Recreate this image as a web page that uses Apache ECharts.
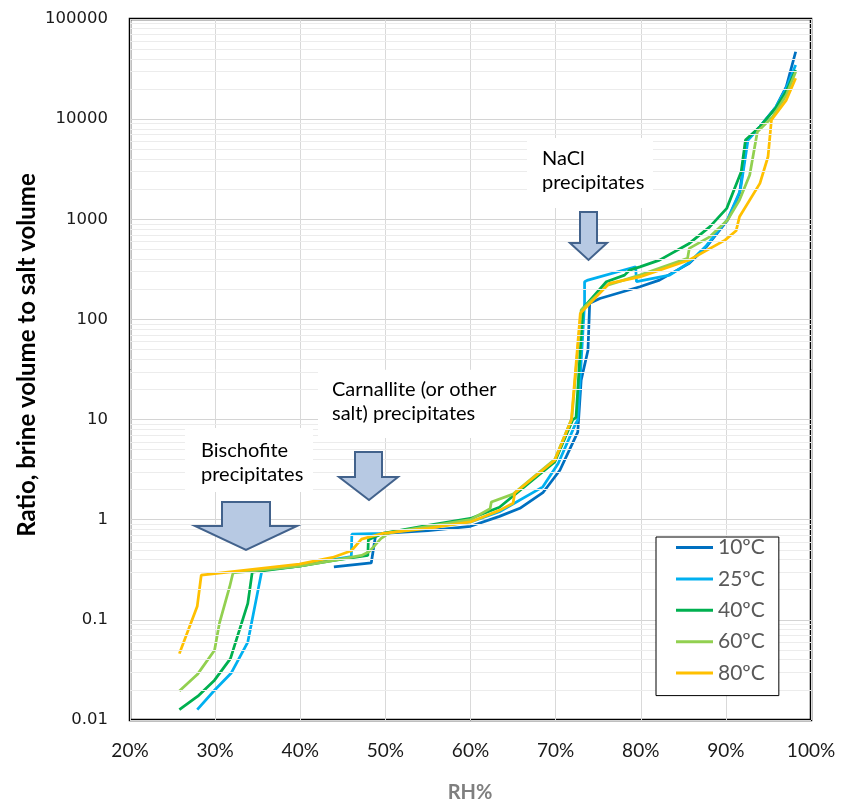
<!DOCTYPE html>
<html>
<head>
<meta charset="utf-8">
<script src="https://cdn.jsdelivr.net/npm/echarts@6/dist/echarts.min.js"></script>
<style>
  html, body { margin: 0; padding: 0; background: #ffffff; }
  #chart { width: 842px; height: 808px; }
</style>
</head>
<body>
<div id="chart"></div>
<script>
// Relative humidity (%) and brine/salt volume ratio for each temperature
const rh10 = [43.95, 48.34, 48.85, 49.7, 55.0, 60.0, 63.4, 65.8, 68.5, 70.5, 72.6, 73.0, 73.8, 74.0, 75.2, 79.9, 82.2, 85.7, 87.7, 90.2, 91.6, 92.5, 94.0, 95.9, 97.1, 98.2];
const ratio10 = [0.338, 0.37, 0.70, 0.73, 0.78, 0.86, 1.08, 1.30, 1.86, 3.12, 7.5, 24.8, 49.3, 145, 162, 212, 247, 363, 531, 982, 1815, 6180, 8400, 13300, 21100, 47100];

const rh25 = [27.9, 29.93, 31.9, 33.84, 35.5, 39.9, 43.8, 46.0, 46.06, 49.7, 55.0, 60.0, 63.4, 68.5, 70.3, 72.35, 72.6, 73.4, 73.4, 73.8, 79.4, 79.5, 83.4, 85.7, 87.7, 90.2, 91.7, 92.6, 94.0, 95.9, 97.1, 98.2];
const ratio25 = [0.0127, 0.0198, 0.0295, 0.060, 0.313, 0.343, 0.40, 0.427, 0.716, 0.73, 0.84, 0.95, 1.2, 2.13, 3.64, 9.1, 9.9, 145, 238, 247, 336, 238, 277, 370, 545, 1000, 1950, 6180, 8400, 13300, 20500, 34700];

const rh40 = [25.8, 27.97, 29.93, 31.8, 33.84, 34.36, 39.9, 43.8, 47.94, 48.0, 49.7, 55.0, 60.0, 63.4, 69.9, 72.0, 72.4, 73.2, 75.96, 78.1, 78.7, 79.9, 82.2, 85.7, 88.1, 90.1, 91.8, 92.3, 94.0, 95.9, 97.1, 98.2];
const ratio40 = [0.0127, 0.0173, 0.025, 0.041, 0.146, 0.30, 0.343, 0.39, 0.44, 0.63, 0.73, 0.88, 1.03, 1.33, 3.78, 9.9, 10.5, 129, 238, 277, 311, 335, 391, 574, 841, 1285, 2985, 6180, 8400, 13000, 19000, 31000];

const rh60 = [25.8, 27.9, 29.93, 30.5, 31.7, 32.1, 39.9, 43.8, 47.2, 48.1, 49.5, 50.5, 55.0, 60.0, 62.3, 62.45, 65.0, 69.9, 71.9, 73.0, 76.1, 79.9, 85.5, 85.7, 88.1, 90.2, 91.6, 92.8, 93.7, 95.5, 97.1, 98.2];
const ratio60 = [0.0195, 0.0284, 0.0497, 0.092, 0.213, 0.294, 0.343, 0.39, 0.44, 0.48, 0.65, 0.74, 0.86, 1.0, 1.29, 1.50, 1.80, 4.0, 10.3, 124, 220, 277, 407, 512, 668, 982, 1556, 2765, 7480, 10570, 17400, 29800];

const rh80 = [25.8, 27.9, 28.37, 39.9, 43.8, 46.0, 47.2, 49.7, 55.0, 60.0, 63.4, 65.0, 65.2, 69.9, 71.85, 72.9, 76.3, 79.9, 85.7, 89.9, 91.2, 91.6, 94.0, 94.95, 95.35, 97.1, 98.2];
const ratio80 = [0.046, 0.137, 0.279, 0.36, 0.42, 0.49, 0.64, 0.73, 0.82, 0.95, 1.24, 1.46, 1.85, 3.93, 9.9, 115, 229, 266, 392, 619, 767, 1059, 2285, 4210, 9800, 15500, 25600];

const seriesNames = ['10ºC', '25ºC', '40ºC', '60ºC', '80ºC'];
const seriesColors = ['#0070c0', '#00b0f0', '#00b050', '#92d050', '#ffc000'];
const seriesRh = [rh10, rh25, rh40, rh60, rh80];
const seriesRatio = [ratio10, ratio25, ratio40, ratio60, ratio80];

const yTickLabels = ['0.01', '0.1', '1', '10', '100', '1000', '10000', '100000'];
const xTickLabels = ['20%', '30%', '40%', '50%', '60%', '70%', '80%', '90%', '100%'];

// Log-scale minor grid positions: 2..9 within each decade
const decadeStarts = [0.01, 0.1, 1, 10, 100, 1000, 10000];
const minorMultipliers = [2, 3, 4, 5, 6, 7, 8, 9];
const minorGridValues = [];
decadeStarts.forEach(d => minorMultipliers.forEach(m => minorGridValues.push(+(d * m).toPrecision(3))));

const chart = echarts.init(document.getElementById('chart'), null, { renderer: 'canvas' });

const curveSeries = seriesNames.map((name, i) => ({
  name: name,
  type: 'line',
  z: 3,
  data: seriesRh[i].map((x, k) => [x, seriesRatio[i][k]]),
  showSymbol: false,
  symbol: 'none',
  smooth: false,
  lineStyle: { color: seriesColors[i], width: 2.75 },
  itemStyle: { color: seriesColors[i] },
  emphasis: { disabled: true }
}));

// Block arrow polygon: shaft from top down to the head, head narrowing to the tip
function blockArrow(shaftL, shaftR, top, headY, headL, headR, tipX, tipY) {
  return {
    type: 'polygon',
    z: 22,
    shape: { points: [[shaftL, top], [shaftR, top], [shaftR, headY], [headR, headY], [tipX, tipY], [headL, headY], [shaftL, headY]] },
    style: { fill: '#b7c9e3', stroke: '#42628c', lineWidth: 2, lineJoin: 'miter' }
  };
}

// White note box with a two-line caption
function noteBox(x, y, w, h, tx, ty, text) {
  return [
    { type: 'rect', z: 20, shape: { x: x, y: y, width: w, height: h }, style: { fill: '#ffffff' } },
    { type: 'text', z: 21, x: tx, y: ty, style: { text: text, font: '20px Lato, "Noto Sans", sans-serif', fill: '#000000', lineHeight: 24.5 } }
  ];
}

const option = {
  backgroundColor: '#ffffff',
  animation: false,
  grid: {
    left: 130, right: 31, top: 19, bottom: 88,
    show: true, borderColor: '#000000', borderWidth: 2.5, backgroundColor: 'transparent'
  },
  xAxis: {
    type: 'value', min: 20, max: 100, interval: 10,
    axisLine: { show: false }, axisTick: { show: false },
    axisLabel: {
      margin: 21,
      color: '#1a1a1a',
      fontFamily: 'Lato, "Noto Sans", sans-serif',
      fontSize: 19,
      formatter: v => xTickLabels[Math.round((v - 20) / 10)]
    },
    splitLine: { show: true, lineStyle: { color: '#d9d9d9', width: 1 } }
  },
  yAxis: {
    type: 'log', logBase: 10, min: 0.01, max: 100000,
    axisLine: { show: false }, axisTick: { show: false },
    axisLabel: {
      margin: 22,
      color: '#1a1a1a',
      fontFamily: '"DejaVu Sans", Verdana, sans-serif',
      fontSize: 16.5,
      formatter: v => yTickLabels[Math.round(Math.log10(v)) + 2]
    },
    splitLine: { show: true, lineStyle: { color: '#d4d4d4', width: 1 } }
  },
  legend: {
    data: seriesNames,
    orient: 'vertical',
    left: 656, top: 537,
    backgroundColor: '#ffffff',
    borderColor: '#000000', borderWidth: 1,
    padding: [0, 14, 12, 20],
    itemWidth: 37, itemHeight: 20, itemGap: 10.4,
    icon: 'path://M0,9 L37,9 L37,12 L0,12 Z',
    selectedMode: false,
    textStyle: { color: '#595959', fontFamily: 'Lato, "Noto Sans", sans-serif', fontSize: 21, lineHeight: 20, padding: [0, 0, 0, 0] },
    z: 20
  },
  series: [
    {
      name: 'minor-grid',
      type: 'line',
      z: 1,
      data: [],
      silent: true,
      markLine: {
        silent: true,
        symbol: 'none',
        animation: false,
        label: { show: false },
        emphasis: { disabled: true },
        lineStyle: { color: '#ececec', width: 1, type: 'solid' },
        data: minorGridValues.map(v => ({ yAxis: v }))
      }
    }
  ].concat(curveSeries),
  graphic: [].concat(
    noteBox(527, 138, 126, 70, 542, 146, 'NaCl\nprecipitates'),
    noteBox(318, 370, 192, 68, 332, 377, 'Carnallite (or other\nsalt) precipitates'),
    noteBox(185, 428, 128, 64, 201, 438, 'Bischofite\nprecipitates'),
    [
      blockArrow(580, 597, 212, 243, 570, 607, 588.5, 260),
      blockArrow(355, 382, 452, 477, 339, 398, 369, 500),
      blockArrow(222, 270, 502, 526, 195, 297, 246, 550),
      {
        type: 'text', z: 20, x: 27, y: 355, rotation: Math.PI / 2,
        style: { text: 'Ratio, brine volume to salt volume', font: 'bold 24px Lato, "Noto Sans", sans-serif', fill: '#000000', align: 'center', verticalAlign: 'middle' }
      },
      {
        type: 'text', z: 20, x: 470, y: 793,
        style: { text: 'RH%', font: 'bold 20px Lato, "Noto Sans", sans-serif', fill: '#7f7f7f', align: 'center', verticalAlign: 'middle' }
      }
    ]
  )
};

chart.setOption(option);
</script>
</body>
</html>
